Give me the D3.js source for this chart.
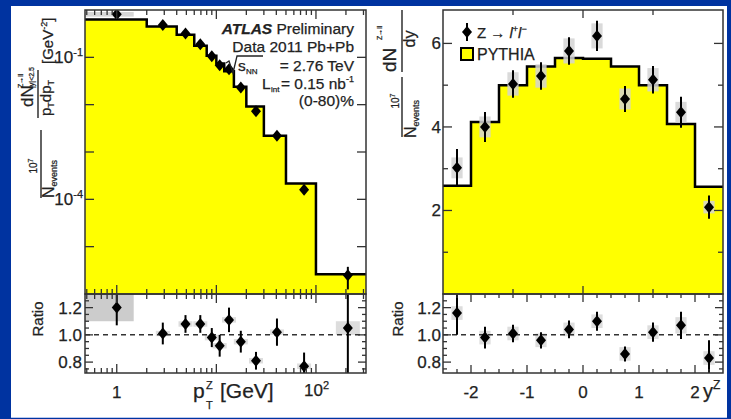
<!DOCTYPE html>
<meta charset="utf-8">
<style>
body { margin: 0; background: #0033a0; }
svg  { display: block; font-family: "Liberation Sans", Arial, sans-serif; }
</style>
<script src="https://cdn.jsdelivr.net/npm/d3@7"></script>
<body>
<svg id="chart" width="731" height="419"></svg>
<script>
// ---- pT spectrum (left) ----
var ptEdges   = [0.48, 2, 4, 6, 8, 10, 12, 15, 20, 30, 50, 100, 318];
var ptCenters = [1, 2.9, 4.9, 6.9, 9, 10.8, 13.4, 17.6, 25, 40.6, 76, 209];
var ptData    = [0.81, 0.48, 0.32, 0.19, 0.105, 0.068, 0.056, 0.023, 0.0073, 0.0022, 1.6e-4, 2.5e-6];
var ptDataErr = [0.1, 0.06, 0.06, 0.06, 0.07, 0.08, 0.08, 0.08, 0.08, 0.1, 0.13, 0.5];   // relative
var ptPythia  = [0.63, 0.45, 0.30, 0.176, 0.108, 0.074, 0.051, 0.024, 0.0091, 0.0022, 2.15e-4, 2.6e-6];
var ptRatio    = [1.20, 1.01, 1.08, 1.08, 0.98, 0.92, 1.11, 0.95, 0.81, 1.02, 0.77, 1.05];
var ptRatioErr = [0.13, 0.08, 0.065, 0.065, 0.07, 0.08, 0.09, 0.08, 0.065, 0.1, 0.1, 0.6];
var ptRatioSys = [0.10, 0.02, 0.02, 0.02, 0.02, 0.02, 0.02, 0.02, 0.02, 0.02, 0.02, 0.05];

// ---- rapidity (right) ----
var yEdges   = [-2.5, -2, -1.5, -1, -0.5, 0, 0.5, 1, 1.5, 2, 2.5];
var yCenters = [-2.25, -1.75, -1.25, -0.75, -0.25, 0.25, 0.75, 1.25, 1.75, 2.25];
var yData    = [3.02, 4.0, 5.03, 5.22, 5.82, 6.18, 4.67, 5.13, 4.35, 2.08];
var yDataErr = [0.45, 0.36, 0.33, 0.33, 0.33, 0.36, 0.31, 0.33, 0.37, 0.28];
var yDataSys = [0.25, 0.25, 0.28, 0.28, 0.3, 0.3, 0.25, 0.28, 0.25, 0.15];
var yPythia  = [2.59, 4.12, 5.0, 5.45, 5.65, 5.63, 5.45, 5.0, 4.07, 2.57];
var yRatio    = [1.16, 0.98, 1.01, 0.96, 1.04, 1.10, 0.86, 1.02, 1.07, 0.83];
var yRatioErr = [0.16, 0.08, 0.065, 0.06, 0.065, 0.07, 0.055, 0.07, 0.1, 0.13];
var yRatioSys = [0.05, 0.05, 0.05, 0.05, 0.05, 0.05, 0.05, 0.05, 0.06, 0.05];

var ratioLabels = [0.8, 1.0, 1.2];

var svg = d3.select("#chart");
var ink = "#222";

// slide background
svg.append("rect").attr("width", 731).attr("height", 419).attr("fill", "#0033a0");
svg.append("rect").attr("x", 11).attr("y", 6).attr("width", 716).attr("height", 411).attr("fill", "white");
svg.append("line").attr("x1", 11).attr("x2", 727).attr("y1", 417.5).attr("y2", 417.5)
   .attr("stroke", "#b9c9ef").attr("stroke-width", 1);

// scales
var xPt = d3.scaleLog().domain([0.48, 318]).range([85, 366]);
var yPt = d3.scaleLog().domain([1e-6, 1]).range([294, 10]);
var rPt = d3.scaleLinear().domain([0.72, 1.30]).range([373, 294]);
var xY  = d3.scaleLinear().domain([-2.5, 2.5]).range([443, 723]);
var yY  = d3.scaleLinear().domain([0, 6.8]).range([294, 10]);
var rY  = d3.scaleLinear().domain([0.72, 1.30]).range([373, 294]);

var defs = svg.append("defs");
function clip(id, x0, x1, y0, y1) {
  defs.append("clipPath").attr("id", id).append("rect")
    .attr("x", x0).attr("y", y0).attr("width", x1 - x0).attr("height", y1 - y0);
  return svg.append("g").attr("clip-path", "url(#" + id + ")");
}

function stepPoints(edges, vals) {
  var pts = vals.map(function(v, i) { return [edges[i], v]; });
  pts.push([edges[edges.length - 1], vals[vals.length - 1]]);
  return pts;
}

function diamond(g, x, y) {
  g.append("path")
    .attr("d", "M" + x + "," + (y - 6) + "L" + (x + 5) + "," + y + "L" + x + "," + (y + 6) + "L" + (x - 5) + "," + y + "Z")
    .attr("fill", "black");
}

function errBar(g, x, yA, yB) {
  g.append("line").attr("x1", x).attr("x2", x).attr("y1", yA).attr("y2", yB)
    .attr("stroke", "black").attr("stroke-width", 2);
}

function histo(g, x, y, edges, vals, base) {
  var pts = stepPoints(edges, vals);
  g.append("path")
    .attr("d", d3.area().curve(d3.curveStepAfter).x(function(d) { return x(d[0]); })
      .y0(base).y1(function(d) { return y(d[1]); })(pts))
    .attr("fill", "#ffff00");
  g.append("path")
    .attr("d", d3.line().curve(d3.curveStepAfter).x(function(d) { return x(d[0]); })
      .y(function(d) { return y(d[1]); })(pts))
    .attr("fill", "none").attr("stroke", "black").attr("stroke-width", 2.5);
}

function frame(x0, x1, y0, y1) {
  svg.append("rect").attr("x", x0).attr("y", y0).attr("width", x1 - x0).attr("height", y1 - y0)
    .attr("fill", "none").attr("stroke", "#333").attr("stroke-width", 1.5);
}

// tick helpers: list of {p: pixel, len: length}
function xTicks(list, x0, x1, yTop, yBot) {
  list.forEach(function(t) {
    svg.append("line").attr("x1", t.p).attr("x2", t.p).attr("y1", yTop).attr("y2", yTop + t.len)
      .attr("stroke", "#333").attr("stroke-width", 1.3);
    svg.append("line").attr("x1", t.p).attr("x2", t.p).attr("y1", yBot).attr("y2", yBot - t.len)
      .attr("stroke", "#333").attr("stroke-width", 1.3);
  });
}
function yTicks(list, xL, xR) {
  list.forEach(function(t) {
    svg.append("line").attr("x1", xL).attr("x2", xL + t.len).attr("y1", t.p).attr("y2", t.p)
      .attr("stroke", "#333").attr("stroke-width", 1.3);
    svg.append("line").attr("x1", xR).attr("x2", xR - t.len).attr("y1", t.p).attr("y2", t.p)
      .attr("stroke", "#333").attr("stroke-width", 1.3);
  });
}

var logTicks = [];
[0.1, 1, 10, 100].forEach(function(dec) {
  for (var m = 1; m <= 9; m++) {
    var v = m * dec;
    if (v > 0.48 && v < 318) logTicks.push({ p: xPt(v), len: m == 1 ? 9 : 5 });
  }
});

var ratioTicks = d3.range(0.75, 1.30, 0.05).map(function(v) {
  var major = ratioLabels.some(function(l) { return Math.abs(l - v) < 1e-6; });
  return { p: rPt(v), len: major ? 8 : 4 };
});

// ================= LEFT PANEL =================
var gL = clip("clipL", 85, 366, 10, 294);
histo(gL, xPt, yPt, ptEdges, ptPythia, 294);
gL.append("rect").attr("x", 85).attr("width", xPt(1.48) - 85)
  .attr("y", yPt(ptData[0] * 1.12)).attr("height", yPt(ptData[0] / 1.12) - yPt(ptData[0] * 1.12))
  .attr("fill", "#ccc").attr("opacity", 0.8);
ptCenters.forEach(function(c, i) {
  errBar(gL, xPt(c), yPt(ptData[i] * (1 + ptDataErr[i])), yPt(ptData[i] * (1 - ptDataErr[i])));
  diamond(gL, xPt(c), yPt(ptData[i]));
});

var gLR = clip("clipLR", 85, 366, 294, 373);
ptCenters.forEach(function(c, i) {
  var w = i == 0 ? [85, xPt(1.48)] : [xPt(c) - 7, xPt(c) + 7];
  if (i == 11) w = [xPt(c) - 12, xPt(c) + 12];
  gLR.append("rect").attr("x", w[0]).attr("width", w[1] - w[0])
    .attr("y", rPt(ptRatio[i] + ptRatioSys[i])).attr("height", rPt(ptRatio[i] - ptRatioSys[i]) - rPt(ptRatio[i] + ptRatioSys[i]))
    .attr("fill", i == 0 ? "#ccc" : "#ddd");
});
gLR.append("line").attr("x1", 85).attr("x2", 366).attr("y1", rPt(1)).attr("y2", rPt(1))
  .attr("stroke", "#333").attr("stroke-width", 1.5).attr("stroke-dasharray", "5,4");
ptCenters.forEach(function(c, i) {
  errBar(gLR, xPt(c), rPt(ptRatio[i] + ptRatioErr[i]), rPt(ptRatio[i] - ptRatioErr[i]));
  diamond(gLR, xPt(c), rPt(ptRatio[i]));
});

frame(85, 366, 10, 294);
frame(85, 366, 294, 373);
xTicks(logTicks, 85, 366, 10, 294);
xTicks(logTicks, 85, 366, 294, 373);
yTicks([1e-5, 1e-4, 1e-3, 1e-2, 1e-1].map(function(v) { return { p: yPt(v), len: 9 }; }), 85, 366);
yTicks(ratioTicks, 85, 366);

// ================= RIGHT PANEL =================
var gR = clip("clipR", 443, 723, 10, 294);
histo(gR, xY, yY, yEdges, yPythia, 294);
yCenters.forEach(function(c, i) {
  gR.append("rect").attr("x", xY(c - 0.1)).attr("width", xY(c + 0.1) - xY(c - 0.1))
    .attr("y", yY(yData[i] + yDataSys[i])).attr("height", yY(yData[i] - yDataSys[i]) - yY(yData[i] + yDataSys[i]))
    .attr("fill", "#d4d4d4").attr("opacity", 0.85);
  errBar(gR, xY(c), yY(yData[i] + yDataErr[i]), yY(yData[i] - yDataErr[i]));
  diamond(gR, xY(c), yY(yData[i]));
});

var gRR = clip("clipRR", 443, 723, 294, 373);
yCenters.forEach(function(c, i) {
  gRR.append("rect").attr("x", xY(c - 0.1)).attr("width", xY(c + 0.1) - xY(c - 0.1))
    .attr("y", rY(yRatio[i] + yRatioSys[i])).attr("height", rY(yRatio[i] - yRatioSys[i]) - rY(yRatio[i] + yRatioSys[i]))
    .attr("fill", "#ddd");
});
gRR.append("line").attr("x1", 443).attr("x2", 723).attr("y1", rY(1)).attr("y2", rY(1))
  .attr("stroke", "#333").attr("stroke-width", 1.5).attr("stroke-dasharray", "5,4");
yCenters.forEach(function(c, i) {
  errBar(gRR, xY(c), rY(yRatio[i] + yRatioErr[i]), rY(yRatio[i] - yRatioErr[i]));
  diamond(gRR, xY(c), rY(yRatio[i]));
});

frame(443, 723, 10, 294);
frame(443, 723, 294, 373);
xTicks([-1.25, 0, 1.25].map(function(v) { return { p: xY(v), len: v == 0 ? 8 : 5 }; }), 443, 723, 10, 294);
xTicks(d3.range(-2.25, 2.5, 0.25).map(function(v) {
  return { p: xY(v), len: Math.abs(v - Math.round(v)) < 1e-6 ? 8 : 4 };
}), 443, 723, 294, 373);
yTicks(d3.range(1, 7).map(function(v) { return { p: yY(v), len: v % 2 == 0 ? 9 : 5 }; }), 443, 723);
yTicks(ratioTicks, 443, 723);

// ================= TEXT =================
function txt(x, y, s, size, anchor) {
  return svg.append("text").attr("x", x).attr("y", y).attr("font-size", size)
    .attr("text-anchor", anchor || "start").attr("fill", ink)
    .attr("stroke", ink).attr("stroke-width", 0.25).text(s);
}

// left y tick labels
[1e-1, 1e-4].forEach(function(v) {
  var t = txt(83, yPt(v) + 6, "10", 17, "end");
  t.append("tspan").attr("font-size", 11).attr("dy", -7).text("-" + Math.round(-Math.log10(v)));
});
ratioLabels.forEach(function(v) {
  txt(82, rPt(v) + 6, v.toFixed(1), 17, "end");
  txt(441, rY(v) + 6, v.toFixed(1), 17, "end");
});
[2, 4, 6].forEach(function(v) { txt(441, yY(v) + 6, v, 17, "end"); });

// x tick labels
txt(xPt(1), 398, "1", 17, "middle");
var t100 = txt(xPt(100) - 12, 396, "10", 17, "start");
t100.append("tspan").attr("font-size", 11).attr("dy", -7).text("2");
[-2, -1, 0, 1, 2].forEach(function(v) { txt(xY(v), 398, v, 17, "middle"); });

// x titles
txt(193, 398, "p", 21);
txt(206, 389, "Z", 11);
txt(206, 409, "T", 11);
txt(220, 398, "[GeV]", 21);
txt(703, 398, "y", 20);
txt(713, 389, "Z", 12);

// annotation
var a1 = txt(354, 34, "", 15.5, "end");
a1.append("tspan").attr("font-weight", "bold").attr("font-style", "italic").text("ATLAS");
a1.append("tspan").text(" Preliminary");
txt(354, 52, "Data 2011 Pb+Pb", 15.5, "end");
txt(354, 71, "= 2.76 TeV", 15.5, "end");
txt(238, 71, "s", 15.5, "start");
txt(246, 74, "NN", 8, "start");
svg.append("path").attr("d", "M226,63 L229,61 L233,73 L237,56 L263,56")
  .attr("fill", "none").attr("stroke", ink).attr("stroke-width", 1.3);
var a4 = txt(354, 89, "= 0.15 nb", 15.5, "end");
a4.append("tspan").attr("font-size", 9).attr("dy", -7).text("-1");
txt(262, 89, "L", 15.5, "start");
txt(271, 92, "int", 8, "start");
txt(354, 106, "(0-80)%", 15.5, "end");

// legend
diamond(svg, 467, 32);
errBar(svg, 467, 23, 41);
var lg = txt(477, 38, "Z \u2192 ", 15, "start");
lg.append("tspan").attr("font-style", "italic").text("l");
lg.append("tspan").attr("font-size", 9).attr("dy", -6).text("+");
lg.append("tspan").attr("font-style", "italic").attr("font-size", 15).attr("dy", 6).text("l");
lg.append("tspan").attr("font-size", 9).attr("dy", -6).text("\u2212");
svg.append("rect").attr("x", 461).attr("y", 48).attr("width", 12).attr("height", 12)
  .attr("fill", "#ffff00").attr("stroke", "black").attr("stroke-width", 2);
txt(477, 60, "PYTHIA", 16, "start");

// rotated y titles (local x = -screenY, local y = screenX)
var rot = svg.append("g").attr("transform", "rotate(-90)");
function rtxt(sy, sx, s, size, anchor) {
  return rot.append("text").attr("x", -sy).attr("y", sx).attr("font-size", size)
    .attr("text-anchor", anchor || "middle").attr("fill", ink)
    .attr("stroke", ink).attr("stroke-width", 0.25).text(s);
}
function rbar(sx, syA, syB) {
  svg.append("line").attr("x1", sx).attr("x2", sx).attr("y1", syA).attr("y2", syB)
    .attr("stroke", ink).attr("stroke-width", 1.4);
}

// left
var n1 = rtxt(166, 37, "10", 10);
n1.append("tspan").attr("font-size", 7).attr("dy", -4).text("7");
rbar(41, 130, 198);
var d1 = rtxt(198, 54, "N", 16, "start");
d1.append("tspan").attr("font-size", 9).attr("dy", 3).text("events");
rtxt(107, 33, "dN", 17, "start");
rtxt(88, 23, "Z\u2192ll", 7, "start");
rtxt(88, 34, "|y|<2.5", 7, "start");
rbar(38, 70, 118);
var pd = rtxt(116, 51, "p", 15, "start");
pd.append("tspan").attr("font-size", 9).attr("dy", 3).text("T");
pd.append("tspan").attr("dy", -3).text("dp");
pd.append("tspan").attr("font-size", 9).attr("dy", 3).text("T");
var gv = rtxt(64, 53, "[GeV", 15, "start");
gv.append("tspan").attr("font-size", 9).attr("dy", -6).text("-2");
gv.append("tspan").attr("dy", 6).text("]");
rtxt(319, 43, "Ratio", 15);

// right
rtxt(72, 396, "dN", 19, "start");
rtxt(40, 382, "Z\u2192ll", 7, "start");
rbar(402, 10, 72);
rtxt(39, 415, "dy", 16);
var n2 = rtxt(101, 399, "10", 10);
n2.append("tspan").attr("font-size", 7).attr("dy", -4).text("7");
rbar(402, 77, 137);
var d2 = rtxt(138, 416, "N", 16, "start");
d2.append("tspan").attr("font-size", 9).attr("dy", 3).text("events");
rtxt(319, 403, "Ratio", 15);
</script>
</body>
